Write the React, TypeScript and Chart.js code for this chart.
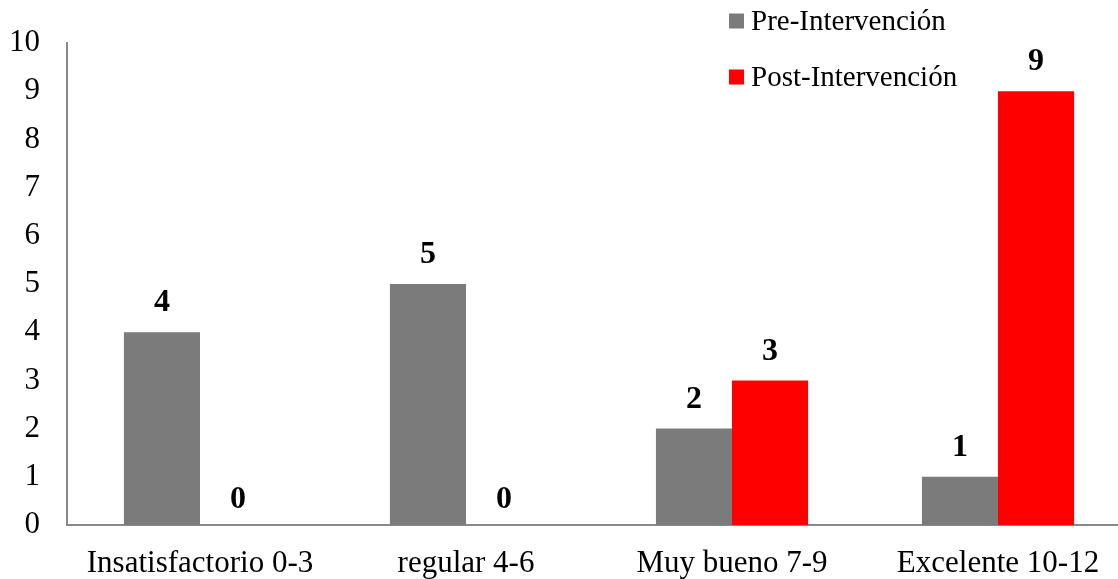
import React, { useEffect, useRef } from "react";
import { Chart, registerables } from "chart.js";

Chart.register(...registerables);

const categories = ["Insatisfactorio 0-3", "regular 4-6", "Muy bueno 7-9", "Excelente 10-12"];
const preValues = [4, 5, 2, 1];
const postValues = [0, 0, 3, 9];
const seriesNames = ["Pre-Intervención", "Post-Intervención"];
const seriesColors = ["#7b7b7b", "#ff0000"];
const yTicks = [0, 1, 2, 3, 4, 5, 6, 7, 8, 9, 10];

const FONT = '"Liberation Serif", "Times New Roman", serif';

const dataLabelPlugin = {
  id: "dataLabels",
  afterDatasetsDraw(chart: any) {
    const ctx = chart.ctx;
    ctx.save();
    ctx.font = `bold 32px ${FONT}`;
    ctx.fillStyle = "#000";
    ctx.textAlign = "center";
    ctx.textBaseline = "middle";
    chart.data.datasets.forEach((ds: any, di: number) => {
      const meta = chart.getDatasetMeta(di);
      meta.data.forEach((bar: any, i: number) => {
        const v = ds.data[i];
        const off = v === 0 ? 25 : 29;
        ctx.fillText(String(v), bar.x, bar.y - off);
      });
    });
    ctx.restore();
  },
};

const customLegendPlugin = {
  id: "customLegend",
  afterDraw(chart: any) {
    const ctx = chart.ctx;
    ctx.save();
    ctx.font = `29px ${FONT}`;
    ctx.textAlign = "left";
    ctx.textBaseline = "middle";
    const x = 729;
    const ys = [21, 77];
    chart.data.datasets.forEach((ds: any, di: number) => {
      const y = ys[di];
      ctx.fillStyle = ds.backgroundColor;
      ctx.fillRect(x, y - 7.5, 15, 15);
      ctx.fillStyle = "#000";
      ctx.fillText(ds.label, x + 22, y + 1);
    });
    ctx.restore();
  },
};

export default function App() {
  const canvasRef = useRef<HTMLCanvasElement | null>(null);

  useEffect(() => {
    if (!canvasRef.current) return;
    const chart = new Chart(canvasRef.current, {
      type: "bar",
      data: {
        labels: categories,
        datasets: [
          { label: seriesNames[0], data: preValues, backgroundColor: seriesColors[0] },
          { label: seriesNames[1], data: postValues, backgroundColor: seriesColors[1] },
        ],
      },
      options: {
        animation: false,
        responsive: false,
        maintainAspectRatio: false,
        layout: { padding: { top: 43, left: 8, right: 0, bottom: 0 } },
        datasets: { bar: { categoryPercentage: 0.572, barPercentage: 1 } },
        plugins: {
          legend: { display: false },
          tooltip: { enabled: false },
        },
        scales: {
          x: {
            grid: { display: false, drawTicks: false },
            border: { display: true, color: "#898989", width: 2 },
            ticks: { color: "#000", font: { family: FONT, size: 31 }, padding: 20, maxRotation: 0 },
            afterFit: (scale: any) => {
              scale.height = 54;
            },
          },
          y: {
            min: 0,
            max: 10,
            afterBuildTicks: (scale: any) => {
              scale.ticks = yTicks.map((v) => ({ value: v }));
            },
            afterFit: (scale: any) => {
              scale.width = 59;
              scale.paddingTop = 0;
              scale.paddingBottom = 0;
            },
            grid: { display: false, drawTicks: false },
            border: { display: true, color: "#898989", width: 2 },
            ticks: { color: "#000", font: { family: FONT, size: 31 }, padding: 27 },
          },
        },
      },
      plugins: [dataLabelPlugin, customLegendPlugin],
    });
    return () => chart.destroy();
  }, []);

  return (
    <div style={{ position: "fixed", left: 0, top: 0, width: 1118, height: 579, overflow: "hidden", background: "#fff" }}>
      <canvas ref={canvasRef} width={1131} height={579} style={{ display: "block" }} />
    </div>
  );
}
